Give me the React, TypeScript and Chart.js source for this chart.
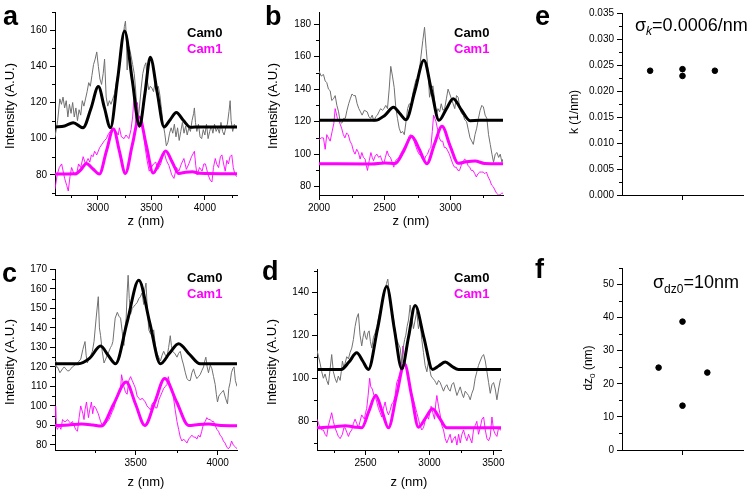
import React, { useEffect, useRef } from 'react';
import { Chart, registerables } from 'chart.js';
Chart.register(...registerables);

type Pt = [number, number];

const FONT = "'Liberation Sans', Arial, Helvetica, sans-serif";
const MAG = '#ff00ff';
const GRAY = '#707070';

// ---------- Panel a ----------
const aCam0Raw: Pt[] = [[2600,101],[2625,110],[2645,122],[2660,119],[2675,123],[2690,117],[2705,121],[2720,112],[2735,119],[2750,114],[2765,120],[2780,112],[2795,117],[2810,110],[2825,116],[2840,113],[2855,121],[2870,118],[2885,122],[2900,126],[2915,131],[2930,129],[2945,135],[2960,141],[2975,144],[2990,148],[3005,140],[3020,133],[3035,130],[3050,136],[3063,144],[3078,123],[3093,118],[3108,121],[3123,119],[3140,122],[3157,125],[3172,131],[3188,136],[3202,140],[3218,149],[3233,155],[3248,162],[3258,165],[3266,157],[3274,138],[3282,152],[3296,150],[3310,146],[3325,141],[3340,136],[3352,128],[3364,117],[3376,110],[3390,118],[3405,128],[3420,136],[3435,140],[3449,142],[3462,132],[3476,127],[3490,129],[3505,128],[3520,126],[3535,131],[3550,128],[3565,129],[3580,124],[3595,116],[3610,108],[3625,103],[3640,96],[3655,98],[3670,103],[3685,106],[3700,103],[3715,108],[3730,101],[3745,106],[3760,99],[3775,104],[3790,109],[3805,103],[3820,107],[3835,102],[3850,106],[3865,104],[3880,110],[3895,114],[3902,117],[3912,109],[3925,104],[3940,108],[3955,101],[3970,100],[3985,105],[4000,102],[4015,108],[4030,100],[4045,104],[4060,107],[4075,103],[4090,108],[4105,104],[4120,106],[4135,103],[4150,109],[4165,104],[4180,102],[4195,106],[4210,108],[4225,115],[4236,121],[4245,110],[4260,104],[4275,108],[4290,106],[4300,107]];
const aCam0Fit: Pt[] = [[2600,106.5],[2690,107],[2770,108.8],[2862,106],[2935,116.5],[3005,128.8],[3062,117],[3118,106],[3185,133],[3250,159.6],[3320,133],[3390,107],[3440,125],[3490,145],[3555,125.5],[3618,106.5],[3676,110.5],[3733,114.4],[3800,110],[3865,106.3],[3950,106.5],[4300,106.5]];
const aCam1Raw: Pt[] = [[2600,72],[2620,80],[2640,84],[2662,86],[2690,78],[2710,74],[2724,71],[2740,79],[2755,84],[2780,80],[2801,80],[2820,86],[2840,84],[2863,90],[2885,86],[2909,89],[2925,87],[2940,91],[2955,90],[2970,93],[2990,91],[3017,95],[3040,97],[3063,99],[3080,100],[3094,102],[3115,104],[3140,106],[3155,104],[3171,104],[3190,102],[3202,106],[3220,101],[3245,100],[3263,102],[3290,100],[3310,105],[3325,112],[3340,124],[3355,108],[3370,120],[3387,106],[3400,110],[3418,107],[3440,96],[3460,88],[3480,82],[3500,84],[3520,86],[3541,87],[3560,83],[3588,86],[3605,90],[3618,93],[3640,88],[3665,85],[3690,80],[3711,78],[3735,84],[3757,82],[3780,86],[3804,89],[3827,83],[3850,86],[3875,90],[3902,93],[3915,85],[3927,80],[3950,84],[3974,82],[3990,86],[4005,86],[4030,80],[4050,77],[4066,76],[4080,84],[4097,89],[4110,86],[4128,84],[4145,90],[4159,91],[4175,86],[4190,82],[4205,88],[4220,86],[4235,90],[4251,91],[4265,84],[4282,80],[4300,79]];
const aCam1Fit: Pt[] = [[2600,80.4],[2790,80.5],[2845,83],[2893,86.3],[2955,83.2],[3015,80.4],[3080,93],[3146,105.3],[3202,93],[3257,80.7],[3322,96.5],[3387,112],[3452,96.5],[3517,81],[3575,87],[3634,93.1],[3695,87],[3757,80.7],[3820,81.4],[3883,81.7],[3950,80.8],[4300,80.5]];
const aXTicks = [3000, 3500, 4000];
const aXMinor = [2750, 3250, 3750, 4250];
const aYTicks = [80, 100, 120, 140, 160];
const aYMinor = [70, 90, 110, 130, 150, 170];

// ---------- Panel b ----------
const bCam0Raw: Pt[] = [[2000,151],[2017,148],[2034,149],[2047,145],[2059,144],[2072,140],[2085,139],[2097,133],[2110,134],[2123,136],[2136,130],[2149,126],[2161,120],[2174,119],[2187,122],[2200,122],[2213,127],[2226,131],[2238,134],[2251,137],[2264,136],[2277,136],[2290,131],[2303,128],[2316,126],[2328,124],[2345,127],[2367,126],[2380,123],[2392,122],[2405,124],[2418,120],[2431,123],[2444,124],[2456,126],[2469,128],[2482,127],[2495,128],[2508,130],[2521,128],[2534,140],[2546,154],[2559,148],[2572,141],[2585,128],[2597,122],[2610,116],[2623,113],[2636,114],[2649,112],[2662,120],[2674,128],[2687,131],[2700,130],[2713,137],[2726,142],[2739,146],[2751,145],[2764,152],[2777,161],[2790,170],[2803,178],[2815,165],[2828,153],[2841,135],[2854,140],[2867,142],[2880,133],[2892,124],[2905,128],[2918,126],[2930,131],[2943,127],[2956,128],[2969,134],[2982,140],[2995,137],[3008,134],[3020,131],[3033,128],[3046,136],[3059,135],[3072,128],[3085,125],[3097,124],[3110,121],[3123,120],[3136,115],[3149,110],[3162,108],[3174,106],[3187,112],[3200,116],[3213,122],[3226,127],[3239,130],[3251,129],[3264,124],[3277,122],[3290,112],[3303,106],[3316,100],[3328,95],[3341,100],[3354,101],[3367,98],[3379,100],[3392,95],[3400,97]];
const bCam0Fit: Pt[] = [[2000,120.8],[2430,120.8],[2500,123.8],[2567,128.8],[2615,125],[2662,121.2],[2730,139],[2798,157.7],[2856,139],[2913,120.8],[2967,127.5],[3021,134.1],[3085,127],[3149,120.6],[3220,120.8],[3400,120.8]];
const bCam1Raw: Pt[] = [[2000,109],[2017,110],[2034,110],[2047,103],[2059,112],[2085,108],[2100,114],[2113,119],[2123,128],[2140,122],[2154,120],[2172,116],[2185,112],[2197,110],[2210,113],[2223,112],[2236,108],[2249,106],[2262,102],[2274,100],[2287,103],[2300,101],[2313,97],[2326,101],[2338,98],[2351,97],[2360,93],[2369,90],[2382,96],[2395,101],[2405,98],[2415,96],[2428,99],[2441,100],[2454,98],[2467,99],[2480,96],[2492,94],[2505,98],[2518,102],[2531,99],[2544,98],[2557,95],[2569,92],[2582,96],[2595,97],[2608,98],[2620,100],[2633,102],[2646,104],[2660,106],[2672,108],[2685,111],[2697,112],[2710,110],[2723,108],[2736,105],[2749,102],[2762,100],[2774,99],[2787,97],[2800,96],[2813,99],[2826,100],[2838,103],[2851,104],[2862,114],[2872,124],[2890,120],[2903,115],[2915,110],[2928,108],[2941,108],[2954,104],[2967,104],[2980,102],[2992,100],[3005,97],[3018,94],[3031,92],[3044,92],[3057,90],[3069,90],[3082,93],[3095,95],[3108,97],[3121,96],[3134,93],[3146,92],[3159,90],[3172,90],[3185,88],[3197,86],[3210,88],[3223,89],[3236,89],[3249,89],[3262,88],[3274,89],[3287,86],[3300,84],[3313,81],[3326,80],[3338,78],[3351,76],[3364,75],[3377,75],[3390,76],[3400,76]];
const bCam1Fit: Pt[] = [[2000,94.1],[2400,94],[2500,94.6],[2580,94.3],[2642,101.5],[2705,111],[2763,103],[2821,94.1],[2878,106],[2936,117.1],[2998,105],[3059,94.4],[3120,95.3],[3187,95.8],[3260,94.3],[3400,94.1]];
const bXTicks = [2000, 2500, 3000];
const bXMinor = [2250, 2750, 3250];
const bYTicks = [80, 100, 120, 140, 160, 180];
const bYMinor = [90, 110, 130, 150, 170];

// ---------- Panel c ----------
const cCam0Raw: Pt[] = [[3008,123],[3013,120],[3023,120],[3038,117],[3054,119],[3064,120],[3074,119],[3084,118],[3094,118],[3104,119],[3114,120],[3130,121],[3145,122],[3155,123],[3165,124],[3178,129],[3191,133],[3198,126],[3205,122],[3215,124],[3226,126],[3236,128],[3246,133],[3259,145],[3272,156],[3279,140],[3286,136],[3296,128],[3307,122],[3317,124],[3327,126],[3337,128],[3347,130],[3354,131],[3361,133],[3375,145],[3388,148],[3398,146],[3408,145],[3418,138],[3428,131],[3435,140],[3442,145],[3448,158],[3454,167],[3461,155],[3469,147],[3479,150],[3489,151],[3499,152],[3509,153],[3519,155],[3529,156],[3539,158],[3549,152],[3556,160],[3563,163],[3571,150],[3580,139],[3590,137],[3600,137],[3610,139],[3620,131],[3630,127],[3641,125],[3651,123],[3661,126],[3671,128],[3681,126],[3691,125],[3701,130],[3711,136],[3718,131],[3725,128],[3738,127],[3752,125],[3762,127],[3772,128],[3782,124],[3792,121],[3803,117],[3813,114],[3823,113],[3833,113],[3843,117],[3853,119],[3863,116],[3873,114],[3883,115],[3893,116],[3903,118],[3914,120],[3921,123],[3928,125],[3936,120],[3944,117],[3955,121],[3965,119],[3975,115],[3985,111],[3992,106],[3999,102],[4007,105],[4015,106],[4025,107],[4035,108],[4048,104],[4060,101],[4068,109],[4076,112],[4084,117],[4092,119],[4100,120],[4108,113],[4118,110]];
const cCam0Fit: Pt[] = [[3008,121.6],[3150,121.6],[3220,124.5],[3286,130.7],[3332,126],[3377,121.6],[3448,143],[3519,164.4],[3585,143],[3651,121.6],[3706,127],[3762,131.9],[3828,126.5],[3893,121.6],[3960,121.6],[4118,121.6]];
const cCam1Raw: Pt[] = [[3008,94],[3012,100],[3017,89],[3023,88],[3033,90],[3044,88],[3054,93],[3064,92],[3074,92],[3084,93],[3094,92],[3104,91],[3114,92],[3124,90],[3134,88],[3145,87],[3155,94],[3165,100],[3178,96],[3185,93],[3191,98],[3200,102],[3212,94],[3220,98],[3230,102],[3238,96],[3246,100],[3256,99],[3272,96],[3286,92],[3297,90],[3307,90],[3317,91],[3327,92],[3337,93],[3347,95],[3357,97],[3368,99],[3378,103],[3388,104],[3398,107],[3408,109],[3414,116],[3421,113],[3428,110],[3438,107],[3448,106],[3458,113],[3469,115],[3479,113],[3489,111],[3499,109],[3509,105],[3519,104],[3529,103],[3539,104],[3549,103],[3559,102],[3569,100],[3580,99],[3590,98],[3600,101],[3610,102],[3620,99],[3630,99],[3641,103],[3651,105],[3661,107],[3671,109],[3681,110],[3691,111],[3699,115],[3711,110],[3721,108],[3731,104],[3741,98],[3752,92],[3762,88],[3772,84],[3782,82],[3792,83],[3803,82],[3813,81],[3823,83],[3833,84],[3843,85],[3853,84],[3863,84],[3873,83],[3883,85],[3893,84],[3903,87],[3914,91],[3924,92],[3934,94],[3944,93],[3955,93],[3965,92],[3975,92],[3985,90],[3995,88],[4005,87],[4015,85],[4025,84],[4035,82],[4045,81],[4055,79],[4065,78],[4075,79],[4085,82],[4095,80],[4108,79],[4118,78]];
const cCam1Fit: Pt[] = [[3008,89.9],[3090,90.2],[3170,90.7],[3240,90.2],[3290,89.7],[3366,101],[3442,112.3],[3499,101],[3556,90],[3617,102],[3677,114],[3750,102],[3823,90],[3885,90.5],[3944,90.7],[4020,89.9],[4118,89.8]];
const cXTicks = [3500, 4000];
const cXMinor = [3250, 3750];
const cYTicks = [80, 90, 100, 110, 120, 130, 140, 150, 160, 170];
const cYMinor = [85, 95, 105, 115, 125, 135, 145, 155, 165];

// ---------- Panel d ----------
const dCam0Raw: Pt[] = [[2120,113],[2132,110],[2144,107],[2157,103],[2170,100],[2183,102],[2196,99],[2209,97],[2222,104],[2235,111],[2248,103],[2261,100],[2274,98],[2287,101],[2301,99],[2310,103],[2319,108],[2330,105],[2340,107],[2353,110],[2366,109],[2379,112],[2392,114],[2405,118],[2418,124],[2431,128],[2444,130],[2457,120],[2470,115],[2480,119],[2491,122],[2500,119],[2509,118],[2518,121],[2528,122],[2538,117],[2549,114],[2562,119],[2575,121],[2588,124],[2601,128],[2614,131],[2627,134],[2640,138],[2653,141],[2664,144],[2674,146],[2683,141],[2692,137],[2705,131],[2718,128],[2731,122],[2744,118],[2757,116],[2771,114],[2784,107],[2797,115],[2806,118],[2815,120],[2825,124],[2836,127],[2849,134],[2862,128],[2875,123],[2888,127],[2901,131],[2914,123],[2927,126],[2940,118],[2953,112],[2966,106],[2980,103],[2993,108],[3003,104],[3013,101],[3026,100],[3040,99],[3049,98],[3058,97],[3071,99],[3084,98],[3097,96],[3110,94],[3123,96],[3136,97],[3149,95],[3162,94],[3175,97],[3189,98],[3202,95],[3215,92],[3228,94],[3241,96],[3254,93],[3267,91],[3280,94],[3293,93],[3306,92],[3319,90],[3332,93],[3345,95],[3358,100],[3371,103],[3384,106],[3397,108],[3411,110],[3424,111],[3437,108],[3450,103],[3463,98],[3476,93],[3489,97],[3502,98],[3515,95],[3528,90],[3541,95],[3554,99],[3560,100]];
const dCam0Fit: Pt[] = [[2120,104.1],[2310,104.1],[2370,107.5],[2431,111.8],[2478,108],[2522,104.1],[2594,123],[2666,142.6],[2725,123],[2784,104.4],[2836,119],[2888,133.8],[2956,119],[3024,104.1],[3074,105.8],[3124,107.5],[3176,105.5],[3228,104.1],[3560,104.1]];
const dCam1Raw: Pt[] = [[2120,81],[2132,79],[2144,77],[2157,76],[2170,76],[2183,74],[2196,73],[2209,78],[2222,81],[2235,84],[2248,80],[2261,77],[2274,75],[2287,73],[2301,72],[2319,74],[2330,77],[2340,77],[2353,75],[2366,73],[2379,75],[2392,76],[2405,79],[2418,81],[2431,79],[2444,77],[2457,80],[2470,83],[2480,82],[2491,81],[2500,84],[2509,86],[2520,92],[2532,100],[2541,96],[2553,95],[2566,92],[2575,92],[2588,89],[2601,86],[2614,84],[2627,82],[2640,86],[2653,89],[2666,85],[2679,83],[2692,85],[2705,88],[2718,89],[2731,92],[2744,98],[2757,100],[2771,103],[2784,108],[2792,115],[2805,109],[2815,106],[2828,101],[2843,97],[2856,94],[2875,90],[2888,87],[2901,84],[2914,81],[2927,78],[2940,76],[2953,77],[2966,80],[2980,83],[2993,81],[3003,84],[3013,87],[3026,84],[3040,81],[3049,88],[3058,92],[3071,87],[3084,83],[3097,78],[3110,76],[3123,72],[3136,70],[3149,72],[3162,74],[3175,70],[3189,72],[3202,73],[3215,69],[3228,74],[3241,70],[3254,74],[3267,76],[3280,73],[3293,71],[3306,74],[3319,72],[3332,70],[3345,76],[3358,78],[3371,80],[3384,74],[3397,77],[3411,81],[3424,82],[3437,76],[3450,72],[3463,71],[3476,73],[3489,82],[3502,76],[3515,74],[3528,73],[3541,77],[3554,76],[3560,76]];
const dCam1Fit: Pt[] = [[2120,77],[2260,77.5],[2340,78],[2420,77.3],[2470,77],[2525,84.5],[2580,92.1],[2630,84.5],[2679,77],[2742,92],[2805,106.7],[2860,92],[2914,77.3],[2969,81.5],[3024,85.8],[3080,81.4],[3136,77],[3200,77],[3560,77]];
const dXTicks = [2500, 3000, 3500];
const dXMinor = [2250, 2750, 3250];
const dYTicks = [80, 100, 120, 140];
const dYMinor = [70, 90, 110, 130, 150];

// ---------- Panel e ----------
const eSlot = [0.93, 2, 2, 3.07];
const eK = [0.0239, 0.0242, 0.0229, 0.0239];
const eXTicks = [2];
const eYTicks = [0, 0.005, 0.01, 0.015, 0.02, 0.025, 0.03, 0.035];
const eYMinor = [0.0025, 0.0075, 0.0125, 0.0175, 0.0225, 0.0275, 0.0325];

// ---------- Panel f ----------
const fSlot = [1.21, 2, 2, 2.82];
const fDz0 = [24.9, 38.8, 13.4, 23.4];
const fXTicks = [2];
const fYTicks = [0, 10, 20, 30, 40, 50];
const fYMinor = [5, 15, 25, 35, 45, 55];

// ---------- helpers ----------
interface Part { t: string; size: number; bold?: boolean; italic?: boolean; dy?: number; color?: string }
interface TextItem { parts: Part[]; x: number; y: number; rotate?: boolean; center?: boolean; middle?: boolean }
interface Box { x: number; y: number; w: number; h: number }
interface Area { l: number; t: number; r: number; b: number }
interface PanelCfg {
  kind: 'line' | 'scatter';
  box: Box; area: Area;
  xRange: [number, number]; yRange: [number, number];
  xTicks: number[]; xMinor: number[]; yTicks: number[]; yMinor: number[];
  xLabel: (v: number) => string; yLabel: (v: number) => string;
  datasets: any[];
  texts: TextItem[];
}

const fontOf = (p: Part) => `${p.italic ? 'italic ' : ''}${p.bold ? 'bold ' : ''}${p.size}px ${FONT}`;
const xy = (arr: Pt[]) => arr.map(([x, y]) => ({ x, y }));
const xyFrom = (xs: number[], ys: number[]) => xs.map((x, i) => ({ x, y: ys[i] }));

function lineSets(r0: Pt[], f0: Pt[], r1: Pt[], f1: Pt[]) {
  const common = { pointRadius: 0, fill: false };
  return [
    { ...common, data: xy(f0), borderColor: '#000', borderWidth: 3, cubicInterpolationMode: 'monotone', borderJoinStyle: 'round', order: 0 },
    { ...common, data: xy(f1), borderColor: MAG, borderWidth: 3, cubicInterpolationMode: 'monotone', borderJoinStyle: 'round', order: 1 },
    { ...common, data: xy(r0), borderColor: GRAY, borderWidth: 1, tension: 0, order: 2 },
    { ...common, data: xy(r1), borderColor: MAG, borderWidth: 0.9, tension: 0, order: 3 },
  ];
}

const legendTexts = (x: number, y: number): TextItem[] => [
  { parts: [{ t: 'Cam0', size: 13, bold: true }], x, y, middle: true },
  { parts: [{ t: 'Cam1', size: 13, bold: true, color: MAG }], x, y: y + 16, middle: true },
];
const letter = (t: string, x: number, y: number): TextItem => ({ parts: [{ t, size: 27, bold: true }], x, y });
const yTitle = (t: string, x: number, y: number, size = 13): TextItem => ({ parts: [{ t, size }], x, y, rotate: true, center: true, middle: true });
const xTitle = (x: number, y: number): TextItem => ({ parts: [{ t: 'z (nm)', size: 13 }], x, y, center: true, middle: true });
const num = (v: number) => String(v);

const panels: PanelCfg[] = [
  {
    kind: 'line', box: { x: 0, y: 0, w: 250, h: 240 }, area: { l: 55, t: 12, r: 237, b: 195 },
    xRange: [2600, 4300], yRange: [68.8, 170.1],
    xTicks: aXTicks, xMinor: aXMinor, yTicks: aYTicks, yMinor: aYMinor, xLabel: num, yLabel: num,
    datasets: lineSets(aCam0Raw, aCam0Fit, aCam1Raw, aCam1Fit),
    texts: [letter('a', 3, 25), yTitle('Intensity (A.U.)', 10, 106), xTitle(146, 221), ...legendTexts(187, 33)],
  },
  {
    kind: 'line', box: { x: 250, y: 0, w: 265, h: 240 }, area: { l: 319, t: 12, r: 503, b: 195 },
    xRange: [2000, 3400], yRange: [74.9, 187.4],
    xTicks: bXTicks, xMinor: bXMinor, yTicks: bYTicks, yMinor: bYMinor, xLabel: num, yLabel: num,
    datasets: lineSets(bCam0Raw, bCam0Fit, bCam1Raw, bCam1Fit),
    texts: [letter('b', 265, 25), yTitle('Intensity (A.U.)', 273, 106), xTitle(411, 221), ...legendTexts(454, 33)],
  },
  {
    kind: 'scatter', box: { x: 515, y: 0, w: 235, h: 240 }, area: { l: 622, t: 13, r: 743, b: 195 },
    xRange: [0, 4], yRange: [0, 0.035],
    xTicks: eXTicks, xMinor: [], yTicks: eYTicks, yMinor: eYMinor, xLabel: () => '', yLabel: (v) => v.toFixed(3),
    datasets: [{ data: xyFrom(eSlot, eK), backgroundColor: '#000', borderColor: '#000', pointRadius: 2.8, showLine: false }],
    texts: [
      letter('e', 535, 25), yTitle('k (1/nm)', 575, 112, 12),
      { parts: [{ t: 'σ', size: 18 }, { t: 'k', size: 12, italic: true, dy: 4 }, { t: '=0.0006/nm', size: 18 }], x: 635, y: 31 },
    ],
  },
  {
    kind: 'line', box: { x: 0, y: 245, w: 250, h: 250 }, area: { l: 55, t: 269, r: 237, b: 450 },
    xRange: [3008, 4118], yRange: [77.4, 170.2],
    xTicks: cXTicks, xMinor: cXMinor, yTicks: cYTicks, yMinor: cYMinor, xLabel: num, yLabel: num,
    datasets: lineSets(cCam0Raw, cCam0Fit, cCam1Raw, cCam1Fit),
    texts: [letter('c', 2, 282), yTitle('Intensity (A.U.)', 10, 362), xTitle(146, 482), ...legendTexts(187, 278)],
  },
  {
    kind: 'line', box: { x: 250, y: 245, w: 265, h: 250 }, area: { l: 317, t: 269, r: 501, b: 450 },
    xRange: [2120, 3560], yRange: [66.7, 150.7],
    xTicks: dXTicks, xMinor: dXMinor, yTicks: dYTicks, yMinor: dYMinor, xLabel: num, yLabel: num,
    datasets: lineSets(dCam0Raw, dCam0Fit, dCam1Raw, dCam1Fit),
    texts: [letter('d', 262, 280), yTitle('Intensity (A.U.)', 272, 362), xTitle(409, 482), ...legendTexts(454, 278)],
  },
  {
    kind: 'scatter', box: { x: 515, y: 245, w: 235, h: 250 }, area: { l: 622, t: 268, r: 743, b: 450 },
    xRange: [0, 4], yRange: [0, 55],
    xTicks: fXTicks, xMinor: [], yTicks: fYTicks, yMinor: fYMinor, xLabel: () => '', yLabel: num,
    datasets: [{ data: xyFrom(fSlot, fDz0), backgroundColor: '#000', borderColor: '#000', pointRadius: 2.8, showLine: false }],
    texts: [
      letter('f', 535, 278),
      { parts: [{ t: 'dz', size: 12 }, { t: '0', size: 8, dy: 3.5 }, { t: ' (nm)', size: 12 }], x: 589, y: 368, rotate: true, center: true, middle: true },
      { parts: [{ t: 'σ', size: 18 }, { t: 'dz0', size: 12, dy: 5 }, { t: '=10nm', size: 18 }], x: 653, y: 288 },
    ],
  },
];

function makePlugin(cfg: PanelCfg) {
  return {
    id: 'panelDecor',
    afterDraw(chart: any) {
      const ctx: CanvasRenderingContext2D = chart.ctx;
      const ca = chart.chartArea;
      const sx = chart.scales.x;
      const sy = chart.scales.y;
      ctx.save();
      ctx.strokeStyle = '#000';
      ctx.lineWidth = 1;
      ctx.beginPath();
      cfg.xMinor.forEach((v) => {
        const px = Math.round(sx.getPixelForValue(v)) + 0.5;
        ctx.moveTo(px, ca.bottom);
        ctx.lineTo(px, ca.bottom + 3);
      });
      cfg.yMinor.forEach((v) => {
        const py = Math.round(sy.getPixelForValue(v)) + 0.5;
        ctx.moveTo(ca.left - 3, py);
        ctx.lineTo(ca.left, py);
      });
      ctx.stroke();
      ctx.restore();

      cfg.texts.forEach((item) => {
        ctx.save();
        ctx.translate(item.x - cfg.box.x, item.y - cfg.box.y);
        if (item.rotate) ctx.rotate(-Math.PI / 2);
        ctx.textBaseline = item.middle ? 'middle' : 'alphabetic';
        ctx.textAlign = 'left';
        const widths = item.parts.map((p) => { ctx.font = fontOf(p); return ctx.measureText(p.t).width; });
        const total = widths.reduce((a, b) => a + b, 0);
        let x = item.center ? -total / 2 : 0;
        item.parts.forEach((p, i) => {
          ctx.font = fontOf(p);
          ctx.fillStyle = p.color || '#000';
          ctx.fillText(p.t, x, p.dy || 0);
          x += widths[i];
        });
        ctx.restore();
      });
    },
  };
}

function buildConfig(cfg: PanelCfg): any {
  const { box, area } = cfg;
  const tickFont = { family: FONT, size: 10 };
  return {
    type: cfg.kind,
    data: { datasets: cfg.datasets },
    plugins: [makePlugin(cfg)],
    options: {
      animation: false,
      responsive: false,
      maintainAspectRatio: false,
      events: [],
      layout: { autoPadding: false, padding: { left: 0, top: area.t - box.y, right: box.x + box.w - area.r, bottom: 0 } },
      plugins: { legend: { display: false }, tooltip: { enabled: false }, title: { display: false } },
      scales: {
        x: {
          type: 'linear', min: cfg.xRange[0], max: cfg.xRange[1],
          afterFit: (s: any) => { s.height = box.y + box.h - area.b; },
          afterBuildTicks: (s: any) => { s.ticks = cfg.xTicks.map((v) => ({ value: v })); },
          ticks: { callback: (v: number) => cfg.xLabel(v), font: tickFont, color: '#000', padding: 2, autoSkip: false, maxRotation: 0 },
          grid: { drawOnChartArea: false, drawTicks: true, tickLength: 5, color: '#000' },
          border: { display: true, color: '#000', width: 1 },
        },
        y: {
          type: 'linear', min: cfg.yRange[0], max: cfg.yRange[1],
          afterFit: (s: any) => { s.width = area.l - box.x; },
          afterBuildTicks: (s: any) => { s.ticks = cfg.yTicks.map((v) => ({ value: v })); },
          ticks: { callback: (v: number) => cfg.yLabel(v), font: tickFont, color: '#000', padding: 3, autoSkip: false },
          grid: { drawOnChartArea: false, drawTicks: true, tickLength: 5, color: '#000' },
          border: { display: true, color: '#000', width: 1 },
        },
      },
    },
  };
}

function Panel({ cfg }: { cfg: PanelCfg }) {
  const ref = useRef<HTMLCanvasElement>(null);
  useEffect(() => {
    const chart = new Chart(ref.current as HTMLCanvasElement, buildConfig(cfg));
    return () => chart.destroy();
  }, [cfg]);
  return (
    <canvas
      ref={ref}
      width={cfg.box.w}
      height={cfg.box.h}
      style={{ position: 'absolute', left: cfg.box.x, top: cfg.box.y, width: cfg.box.w, height: cfg.box.h }}
    />
  );
}

export default function App() {
  useEffect(() => {
    document.body.style.margin = '0';
  }, []);
  return (
    <div style={{ position: 'fixed', left: 0, top: 0, width: 750, height: 495, background: '#fff', overflow: 'hidden' }}>
      {panels.map((p, i) => (
        <Panel key={i} cfg={p} />
      ))}
    </div>
  );
}
